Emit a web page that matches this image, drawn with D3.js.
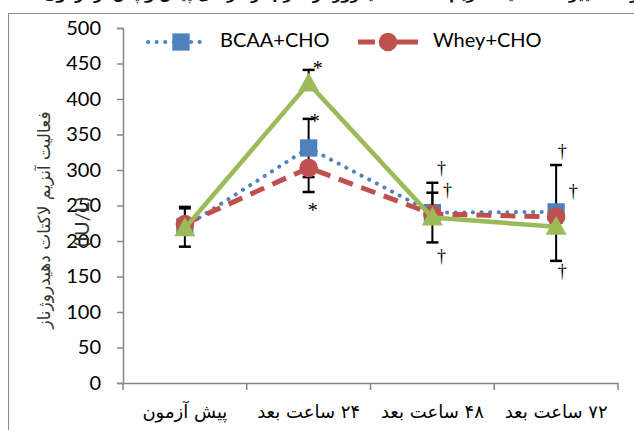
<!DOCTYPE html>
<html>
<head>
<meta charset="utf-8">
<script src="https://cdn.jsdelivr.net/npm/d3@7"></script>
<style>
  body { margin: 0; background: #fff; }
  svg { display: block; }
</style>
</head>
<body>
<script>
const W = 634, H = 430
const margin = { top: 28, right: 16, bottom: 47, left: 123 }

// categories (x) and y ticks
const categories = ['pre', 'h24', 'h48', 'h72']
const catLabels = ['پیش آزمون', '۲۴ ساعت بعد', '۴۸ ساعت بعد', '۷۲ ساعت بعد']
const yTicks = [0, 50, 100, 150, 200, 250, 300, 350, 400, 450, 500]

// series values (IU/L)
const bcaaValues = [220, 331, 240, 241]
const wheyValues = [224, 303, 238, 234]
const choValues = [218, 422, 233, 220]

// error bars [down, up], 0 = not drawn
const bcaaErr = [[28, 28], [41, 41], [42, 42], [69, 66]]
const wheyErr = [[0, 22], [34, 0], [0, 30], [0, 0]]
const choErr = [[0, 0], [0, 19], [0, 0], [0, 0]]

// significance marks: category, value position, text
const marks = [
  { cat: 'h24', v: 448, dx: 9, t: '*' },
  { cat: 'h24', v: 373, dx: 6, t: '*' },
  { cat: 'h24', v: 247, dx: 4, t: '*' },
  { cat: 'h48', v: 300, dx: 9, t: '†' },
  { cat: 'h48', v: 269, dx: 15, t: '†' },
  { cat: 'h48', v: 176, dx: 9, t: '†' },
  { cat: 'h72', v: 324, dx: 6, t: '†' },
  { cat: 'h72', v: 268, dx: 17, t: '†' },
  { cat: 'h72', v: 155, dx: 6, t: '†' }
]

const svg = d3.select('body').append('svg')
    .attr('width', W)
    .attr('height', H)

// outer frame of the chart area (runs off the picture)
svg.append('rect')
    .attr('x', 8.5).attr('y', 13.5)
    .attr('width', 700).attr('height', 500)
    .attr('fill', 'none')
    .attr('stroke', '#8c8c8c')

// caption, cut off at the top as in the source
svg.append('text')
    .attr('x', 360).attr('y', -1)
    .attr('text-anchor', 'middle')
    .attr('direction', 'rtl')
    .attr('font-family', 'DejaVu Sans')
    .attr('font-weight', 'bold')
    .attr('font-size', 15)
    .attr('fill', '#111')
    .text('نمودار ۱. تغییرات فعالیت آنزیم لاکتات دهیدروژناز سرم در مراحل پیش و پس از آزمون')

const x = d3.scaleBand()
    .domain(categories)
    .range([margin.left, W - margin.right])

const y = d3.scaleLinear()
    .domain([0, 500])
    .range([H - margin.bottom, margin.top])

const axisColor = '#868686'

// y axis
const yAxis = svg.append('g')
    .attr('transform', 'translate(' + margin.left + ',0)')
    .call(d3.axisLeft(y).tickValues(yTicks).tickSize(6).tickPadding(16))
yAxis.select('.domain').attr('stroke', axisColor).attr('stroke-width', 1.5)
yAxis.selectAll('.tick line').attr('stroke', axisColor).attr('stroke-width', 1.5)
yAxis.selectAll('.tick text')
    .attr('font-family', 'Lato')
    .attr('font-size', 20)
    .attr('fill', '#000')

// x axis
const xAxis = svg.append('g')
    .attr('transform', 'translate(0,' + (H - margin.bottom) + ')')
    .call(d3.axisBottom(x).tickSize(0).tickFormat(''))
xAxis.select('.domain').attr('stroke', axisColor).attr('stroke-width', 1.5)
xAxis.selectAll('.tick').remove()

// boundary ticks between categories
const bounds = categories.map(c => x(c)).concat([x(categories[categories.length - 1]) + x.bandwidth()])
svg.append('g').selectAll('line')
    .data(bounds)
    .enter()
    .append('line')
    .attr('x1', d => d).attr('x2', d => d)
    .attr('y1', H - margin.bottom).attr('y2', H - margin.bottom + 7)
    .attr('stroke', axisColor)
    .attr('stroke-width', 1.5)

svg.append('g').selectAll('text')
    .data(categories)
    .enter()
    .append('text')
    .attr('x', d => x(d) + x.bandwidth() / 2)
    .attr('y', H - 12)
    .attr('text-anchor', 'middle')
    .attr('direction', 'rtl')
    .attr('font-family', 'DejaVu Sans')
    .attr('font-size', 18)
    .attr('fill', '#000')
    .text((d, i) => catLabels[i])

// y axis title (two overlapping parts, as in the source)
svg.append('text')
    .attr('transform', 'translate(45,220) rotate(-90)')
    .attr('text-anchor', 'middle')
    .attr('direction', 'rtl')
    .attr('dominant-baseline', 'middle')
    .attr('font-family', 'DejaVu Sans')
    .attr('font-size', 17)
    .attr('fill', '#333')
    .text('فعالیت آنزیم لاکتات دهیدروژناز')

svg.append('text')
    .attr('transform', 'translate(84,222) rotate(-90)')
    .attr('text-anchor', 'middle')
    .attr('dominant-baseline', 'middle')
    .attr('font-family', 'Lato')
    .attr('font-size', 20)
    .attr('fill', '#333')
    .text('(IU/L)')

const cx = c => x(c) + x.bandwidth() / 2

const series = [
    { name: 'BCAA+CHO', values: bcaaValues, err: bcaaErr, color: '#4F81BD', width: 4, dash: '0.1 8.5', cap: 'round', marker: 'square' },
    { name: 'Whey+CHO', values: wheyValues, err: wheyErr, color: '#C0504D', width: 5, dash: '15 9', cap: 'butt', marker: 'circle' },
    { name: 'CHO', values: choValues, err: choErr, color: '#9BBB59', width: 4.5, dash: null, cap: 'butt', marker: 'triangle' }
]

const line = d3.line()
    .x((d, i) => cx(categories[i]))
    .y(d => y(d))

const markerPath = {
    square: d3.symbol(d3.symbolSquare, 300)(),
    circle: d3.symbol(d3.symbolCircle, 270)(),
    triangle: 'M0,-11L10.5,8L-10.5,8Z'
}

function drawMarker(g, type, color, px, py) {
    g.append('path')
        .attr('d', markerPath[type])
        .attr('transform', 'translate(' + px + ',' + py + ')')
        .attr('fill', color)
}

series.forEach(s => {
    const g = svg.append('g')

    // error bars
    s.err.forEach((e, i) => {
        const px = cx(categories[i])
        const v = s.values[i]
        ;[0, 1].forEach(k => {
            if (!e[k]) return
            const end = k === 0 ? v - e[0] : v + e[1]
            g.append('line')
                .attr('x1', px).attr('x2', px)
                .attr('y1', y(v)).attr('y2', y(end))
                .attr('stroke', '#000').attr('stroke-width', 2)
            g.append('line')
                .attr('x1', px - 6).attr('x2', px + 6)
                .attr('y1', y(end)).attr('y2', y(end))
                .attr('stroke', '#000').attr('stroke-width', 2.5)
        })
    })

    g.append('path')
        .datum(s.values)
        .attr('d', line)
        .attr('fill', 'none')
        .attr('stroke', s.color)
        .attr('stroke-width', s.width)
        .attr('stroke-dasharray', s.dash)
        .attr('stroke-linecap', s.cap)

    s.values.forEach((v, i) => drawMarker(g, s.marker, s.color, cx(categories[i]), y(v)))
})

// significance marks
svg.append('g').selectAll('text')
    .data(marks)
    .enter()
    .append('text')
    .attr('x', d => cx(d.cat) + d.dx)
    .attr('y', d => y(d.v))
    .attr('text-anchor', 'middle')
    .attr('dominant-baseline', 'middle')
    .attr('font-family', 'Liberation Serif')
    .attr('font-size', d => d.t === '*' ? 20 : 18)
    .attr('dy', d => d.t === '*' ? 5 : 0)
    .attr('fill', '#000')
    .text(d => d.t)

// legend
const legend = svg.append('g')
const legendItems = [
    { s: series[0], x1: 148, x2: 205, mx: 181, tx: 220, dash: '0.1 8.5' },
    { s: series[1], x1: 358, x2: 418, mx: 388, tx: 433, dash: '17 19 24' }
]
legendItems.forEach(li => {
    const ly = 42
    legend.append('line')
        .attr('x1', li.x1).attr('x2', li.x2)
        .attr('y1', ly).attr('y2', ly)
        .attr('stroke', li.s.color)
        .attr('stroke-width', li.s.width)
        .attr('stroke-dasharray', li.dash)
        .attr('stroke-linecap', li.s.cap)
    drawMarker(legend, li.s.marker, li.s.color, li.mx, ly)
    legend.append('text')
        .attr('x', li.tx).attr('y', ly)
        .attr('dominant-baseline', 'middle')
        .attr('font-family', 'Lato')
        .attr('font-size', 20)
        .attr('fill', '#000')
        .text(li.s.name)
})
</script>
</body>
</html>
